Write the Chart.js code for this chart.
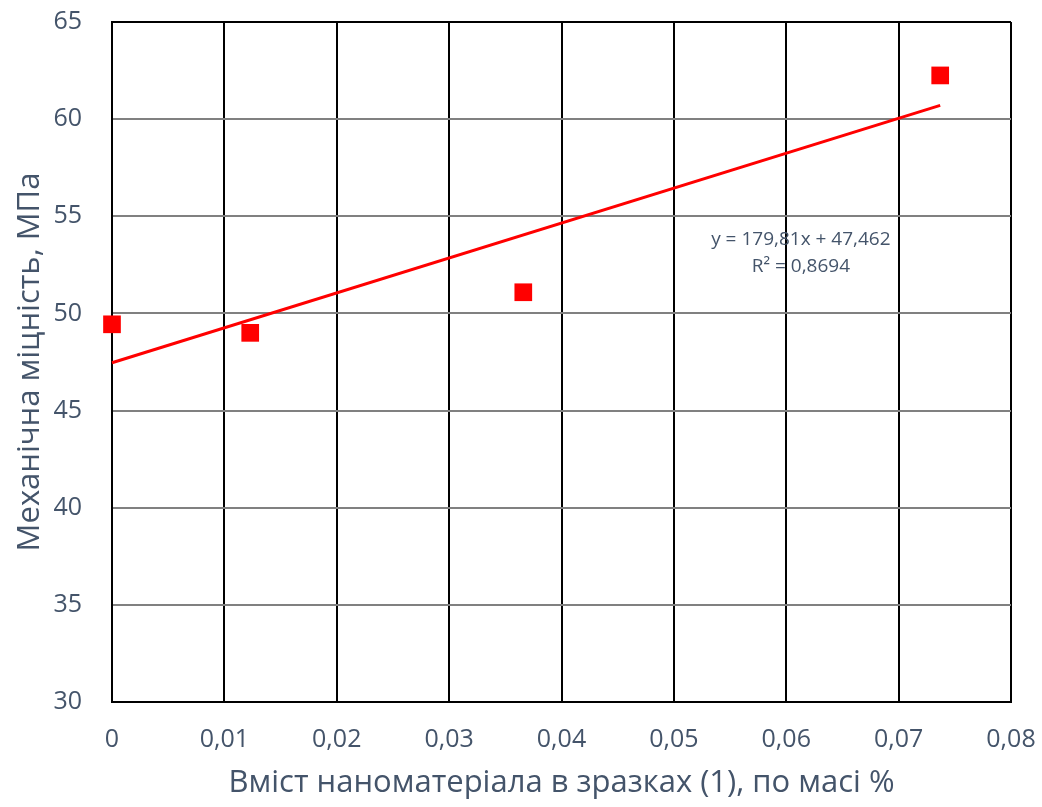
<!DOCTYPE html>
<html>
<head>
<meta charset="utf-8">
<script src="https://cdn.jsdelivr.net/npm/chart.js@4/dist/chart.umd.min.js"></script>
<style>
  html, body { margin: 0; padding: 0; background: #fff; }
  #wrap { width: 1042px; height: 807px; }
</style>
</head>
<body>
<div id="wrap"><canvas id="strengthChart"></canvas></div>
<script>
// values
const contentX = [0, 0.0123, 0.0366, 0.0737];
const strengthY = [49.44, 49.0, 51.09, 62.25];
const trendX = [0, 0.0737];
const trendY = [47.46, 60.71];
const xTicks = [0, 0.01, 0.02, 0.03, 0.04, 0.05, 0.06, 0.07, 0.08];
const yTicks = [30, 35, 40, 45, 50, 55, 60, 65];
const trendLabel = ['y = 179,81x + 47,462', 'R² = 0,8694'];

const textColor = '#44546A';
const fontName = "'Open Sans', sans-serif";

function fmt(v) {
    return (Math.round(v * 100) / 100).toString().replace('.', ',');
}

// keep tick labels from pushing the plot area inward
function noPad(s) {
    s.paddingTop = 0;
    s.paddingBottom = 0;
    s.paddingLeft = 0;
    s.paddingRight = 0;
}

const trendText = {
    id: 'trendText',
    afterDatasetsDraw(chart) {
        const ctx = chart.ctx;
        const x = chart.scales.x.getPixelForValue(0.0613);
        const y = chart.scales.y.getPixelForValue(53.78);
        ctx.save();
        ctx.fillStyle = textColor;
        ctx.font = "19px " + fontName;
        ctx.textAlign = 'center';
        ctx.textBaseline = 'middle';
        ctx.fillText(trendLabel[0], x, y);
        ctx.fillText(trendLabel[1], x, y + 27);
        ctx.restore();
    }
};

document.addEventListener("DOMContentLoaded", function () {
    const ctx = document.getElementById('strengthChart').getContext('2d');
    new Chart(ctx, {
        type: 'scatter',
        data: {
            datasets: [{
                label: 'Механічна міцність',
                data: contentX.map((x, i) => ({ x: x, y: strengthY[i] })),
                backgroundColor: '#FF0000',
                borderWidth: 0,
                pointStyle: 'rect',
                pointRadius: 12.5,
                pointHoverRadius: 12.5,
                clip: false
            }, {
                label: 'Лінійний тренд',
                data: trendX.map((x, i) => ({ x: x, y: trendY[i] })),
                showLine: true,
                borderColor: '#FF0000',
                borderWidth: 3,
                pointRadius: 0,
                clip: false
            }]
        },
        options: {
            responsive: true,
            maintainAspectRatio: false,
            animation: false,
            layout: { autoPadding: false, padding: { top: 22, right: 31, left: 0, bottom: 0 } },
            plugins: {
                legend: { display: false },
                tooltip: { enabled: false }
            },
            scales: {
                x: {
                    type: 'linear',
                    min: 0,
                    max: 0.08,
                    afterBuildTicks: s => { s.ticks = xTicks.map(v => ({ value: v })); },
                    afterFit: s => { s.height = 105; noPad(s); },
                    grid: { color: '#000000', lineWidth: 2, drawTicks: false },
                    border: { color: '#000000', width: 2 },
                    ticks: {
                        color: textColor,
                        font: { family: fontName, size: 25 },
                        padding: 23,
                        maxRotation: 0,
                        callback: v => fmt(v)
                    },
                    title: {
                        display: true,
                        text: 'Вміст наноматеріала в зразках (1), по масі %',
                        color: textColor,
                        font: { family: fontName, size: 31 },
                        padding: { top: 0, bottom: 5 }
                    }
                },
                y: {
                    min: 30,
                    max: 65,
                    afterBuildTicks: s => { s.ticks = yTicks.map(v => ({ value: v })); },
                    afterFit: s => { s.width = 112; noPad(s); },
                    grid: {
                        color: c => (c.tick && (c.tick.value === 65 || c.tick.value === 30)) ? '#000000' : '#808080',
                        lineWidth: 2,
                        drawTicks: false
                    },
                    border: { color: '#000000', width: 2 },
                    ticks: {
                        color: textColor,
                        font: { family: fontName, size: 25 },
                        padding: 30,
                        callback: v => fmt(v)
                    },
                    title: {
                        display: true,
                        text: 'Механічна міцність, МПа',
                        color: textColor,
                        font: { family: fontName, size: 31 },
                        padding: { top: 12, bottom: 0 }
                    }
                }
            }
        },
        plugins: [trendText]
    });
});
</script>
</body>
</html>
